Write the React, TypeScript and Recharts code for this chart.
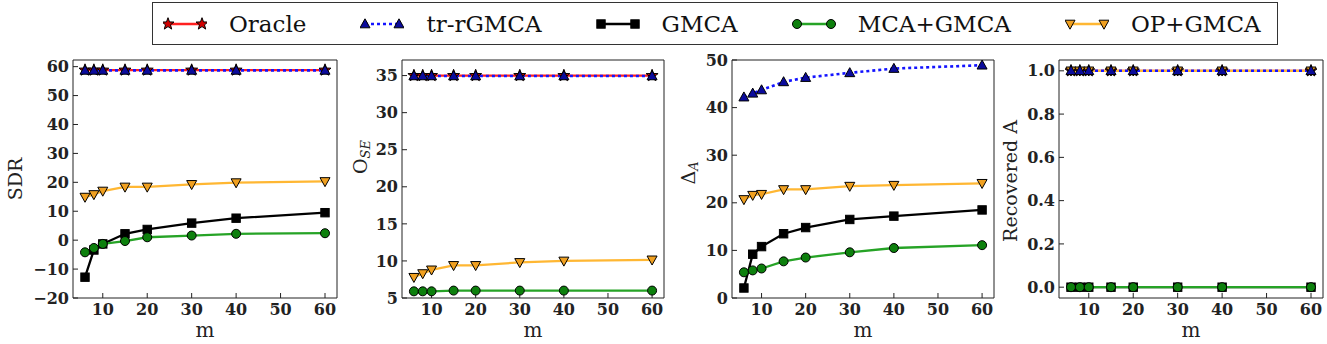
import React from 'react';
import { LineChart, Line, XAxis, YAxis } from 'recharts';

// number of measurements m (shared x values)
const mValues = [6, 8, 10, 15, 20, 30, 40, 60];
const mTicks = [10, 20, 30, 40, 50, 60];

// SDR
const sdrOracle = [58.8, 58.8, 58.8, 58.8, 58.8, 58.8, 58.8, 58.8];
const sdrTrRgmca = [58.7, 58.7, 58.7, 58.7, 58.7, 58.7, 58.7, 58.7];
const sdrGmca = [-12.8, -3.4, -1.3, 2.2, 3.7, 5.9, 7.6, 9.5];
const sdrMcaGmca = [-4.2, -2.7, -1.3, -0.3, 1.0, 1.6, 2.2, 2.4];
const sdrOpGmca = [14.9, 15.8, 17.0, 18.4, 18.4, 19.3, 19.9, 20.3];

// O_SE
const oseOracle = [35.0, 35.0, 35.0, 35.0, 35.0, 35.0, 35.0, 35.0];
const oseTrRgmca = [34.95, 34.95, 34.95, 34.95, 34.95, 34.95, 34.95, 34.95];
const oseMcaGmca = [5.9, 5.9, 5.9, 6.0, 6.0, 6.0, 6.0, 6.0];
const oseOpGmca = [7.8, 8.3, 8.8, 9.4, 9.4, 9.8, 10.0, 10.15];

// Delta_A
const daTrRgmca = [42.2, 43.0, 43.7, 45.4, 46.3, 47.3, 48.2, 48.9];
const daGmca = [2.1, 9.2, 10.8, 13.5, 14.8, 16.5, 17.2, 18.5];
const daMcaGmca = [5.4, 5.8, 6.2, 7.7, 8.5, 9.6, 10.5, 11.1];
const daOpGmca = [20.7, 21.6, 21.8, 22.8, 22.8, 23.5, 23.7, 24.1];

// Recovered A
const recOracle = [1, 1, 1, 1, 1, 1, 1, 1];
const recTrRgmca = [1, 1, 1, 1, 1, 1, 1, 1];
const recGmca = [0, 0, 0, 0, 0, 0, 0, 0];
const recMcaGmca = [0, 0, 0, 0, 0, 0, 0, 0];
const recOpGmca = [1, 1, 1, 1, 1, 1, 1, 1];

type Key = 'oracle' | 'tr' | 'gmca' | 'mca' | 'op';
type Shape = 'star' | 'up' | 'square' | 'circle' | 'down';

const STYLES: Record<Key, { name: string; stroke: string; width: number; dash?: string; shape: Shape; fill: string }> = {
  oracle: { name: 'Oracle', stroke: '#ff2020', width: 2.3, shape: 'star', fill: '#d00000' },
  tr: { name: 'tr-rGMCA', stroke: '#1414ff', width: 2.6, dash: '3 3', shape: 'up', fill: '#0b0b9c' },
  gmca: { name: 'GMCA', stroke: '#000000', width: 2.3, shape: 'square', fill: '#000000' },
  mca: { name: 'MCA+GMCA', stroke: '#26a326', width: 2.3, shape: 'circle', fill: '#0d800d' },
  op: { name: 'OP+GMCA', stroke: '#ffb733', width: 2.3, shape: 'down', fill: '#f0a020' },
};

const LEGEND_ORDER: Key[] = ['oracle', 'tr', 'gmca', 'mca', 'op'];
const DRAW_ORDER: Key[] = ['oracle', 'op', 'gmca', 'mca', 'tr'];

const FONT = '"DejaVu Serif", serif';
const AXIS = '#222';

function starPoints(cx: number, cy: number, ro: number, ri: number) {
  const pts: string[] = [];
  for (let i = 0; i < 10; i++) {
    const r = i % 2 === 0 ? ro : ri;
    const a = -Math.PI / 2 + (i * Math.PI) / 5;
    pts.push(`${cx + r * Math.cos(a)},${cy + r * Math.sin(a)}`);
  }
  return pts.join(' ');
}

function Marker({ shape, cx, cy, fill }: { shape: Shape; cx?: number; cy?: number; fill: string }) {
  if (cx == null || cy == null) return null;
  const common = { fill, stroke: '#000', strokeWidth: 1 };
  switch (shape) {
    case 'square':
      return <rect x={cx - 4.2} y={cy - 4.2} width={8.4} height={8.4} {...common} />;
    case 'circle':
      return <circle cx={cx} cy={cy} r={4.5} {...common} />;
    case 'up':
      return <polygon points={`${cx},${cy - 5.2} ${cx + 5},${cy + 3.8} ${cx - 5},${cy + 3.8}`} {...common} />;
    case 'down':
      return <polygon points={`${cx},${cy + 5.2} ${cx + 5},${cy - 3.8} ${cx - 5},${cy - 3.8}`} {...common} />;
    default:
      return <polygon points={starPoints(cx, cy, 6.3, 2.6)} {...common} />;
  }
}

function buildRows(series: Partial<Record<Key, number[]>>) {
  return mValues.map((m, i) => {
    const row: Record<string, number> = { m };
    (Object.keys(series) as Key[]).forEach((k) => {
      row[k] = series[k]![i];
    });
    return row;
  });
}

const minus = (v: number) => (v < 0 ? `\u2212${Math.abs(v)}` : String(v));

const panels = [
  {
    id: 'sdr',
    plotLeft: 73,
    plotWidth: 264,
    domain: [-20, 62.3],
    ticks: [-20, -10, 0, 10, 20, 30, 40, 50, 60],
    fmt: minus,
    titleGap: 58,
    titleDy: 0,
    title: <>SDR</>,
    series: { oracle: sdrOracle, tr: sdrTrRgmca, gmca: sdrGmca, mca: sdrMcaGmca, op: sdrOpGmca },
  },
  {
    id: 'ose',
    plotLeft: 402,
    plotWidth: 262,
    domain: [5, 37.1],
    ticks: [5, 10, 15, 20, 25, 30, 35],
    fmt: minus,
    titleGap: 42,
    titleDy: -22,
    title: (
      <>
        O
        <tspan dy={5} fontSize={13} fontStyle="italic">
          SE
        </tspan>
      </>
    ),
    series: { oracle: oseOracle, tr: oseTrRgmca, mca: oseMcaGmca, op: oseOpGmca },
  },
  {
    id: 'da',
    plotLeft: 732,
    plotWidth: 262,
    domain: [0, 50],
    ticks: [0, 10, 20, 30, 40, 50],
    fmt: minus,
    titleGap: 44,
    titleDy: -6,
    title: (
      <>
        Δ
        <tspan dy={5} fontSize={13} fontStyle="italic">
          A
        </tspan>
      </>
    ),
    series: { tr: daTrRgmca, gmca: daGmca, mca: daMcaGmca, op: daOpGmca },
  },
  {
    id: 'rec',
    plotLeft: 1059,
    plotWidth: 264,
    domain: [-0.05, 1.05],
    ticks: [0, 0.2, 0.4, 0.6, 0.8, 1.0],
    fmt: (v: number) => v.toFixed(1),
    titleGap: 49,
    titleDy: 2,
    title: <>Recovered A</>,
    series: { oracle: recOracle, tr: recTrRgmca, gmca: recGmca, mca: recMcaGmca, op: recOpGmca },
  },
];

const tickStyle = { fill: AXIS, fontSize: 16, fontFamily: FONT, fontWeight: 'bold' };
const X_DOMAIN = [3.3, 62.7];

function Panel({ p }: { p: (typeof panels)[number] }) {
  const data = buildRows(p.series);
  const keys = DRAW_ORDER.filter((k) => k in p.series);
  const width = 73 + p.plotWidth + 4;
  return (
    <div style={{ position: 'absolute', left: p.plotLeft - 73, top: 0 }}>
      <LineChart width={width} height={344} data={data} margin={{ top: 59, right: 3, bottom: 6, left: 23 }}>
        <XAxis
          dataKey="m"
          type="number"
          domain={X_DOMAIN}
          allowDataOverflow
          ticks={mTicks}
          interval={0}
          tickSize={-5}
          tickMargin={11}
          height={40}
          tick={tickStyle}
          stroke={AXIS}
          label={(lp: any) => {
            const vb = lp.viewBox;
            return (
              <text x={vb.x + vb.width / 2} y={vb.y + 39} textAnchor="middle" fontFamily={FONT} fontSize={20} fill={AXIS}>
                m
              </text>
            );
          }}
        />
        <XAxis
          xAxisId="top"
          orientation="top"
          dataKey="m"
          type="number"
          domain={X_DOMAIN}
          allowDataOverflow
          ticks={mTicks}
          interval={0}
          tickSize={-5}
          tick={false}
          height={1}
          stroke={AXIS}
        />
        <YAxis
          type="number"
          domain={p.domain}
          allowDataOverflow
          ticks={p.ticks}
          interval={0}
          tickSize={-5}
          tickMargin={9}
          width={50}
          tick={tickStyle}
          tickFormatter={p.fmt}
          stroke={AXIS}
          label={(lp: any) => {
            const vb = lp.viewBox;
            const cx = vb.x + vb.width - p.titleGap;
            const cy = vb.y + vb.height / 2 + p.titleDy;
            return (
              <text
                x={cx}
                y={cy}
                transform={`rotate(-90 ${cx} ${cy})`}
                textAnchor="middle"
                dominantBaseline="central"
                fontFamily={FONT}
                fontSize={19}
                fill={AXIS}
              >
                {p.title}
              </text>
            );
          }}
        />
        <YAxis
          yAxisId="right"
          orientation="right"
          type="number"
          domain={p.domain}
          allowDataOverflow
          ticks={p.ticks}
          interval={0}
          tickSize={-5}
          tick={false}
          width={1}
          stroke={AXIS}
        />
        {keys.map((k) => {
          const s = STYLES[k];
          return (
            <Line
              key={k}
              type="linear"
              dataKey={k}
              stroke={s.stroke}
              strokeWidth={s.width}
              strokeDasharray={s.dash}
              dot={(dp: any) => <Marker key={`${k}-${dp.index}`} shape={s.shape} cx={dp.cx} cy={dp.cy} fill={s.fill} />}
              activeDot={false}
              isAnimationActive={false}
            />
          );
        })}
      </LineChart>
    </div>
  );
}

function LegendHandle({ k }: { k: Key }) {
  const s = STYLES[k];
  return (
    <svg width={44} height={20} style={{ display: 'block' }}>
      <line x1={5} y1={10} x2={39} y2={10} stroke={s.stroke} strokeWidth={s.width} strokeDasharray={s.dash} />
      <Marker shape={s.shape} cx={5} cy={10} fill={s.fill} />
      <Marker shape={s.shape} cx={39} cy={10} fill={s.fill} />
    </svg>
  );
}

export default function App() {
  return (
    <div
      style={{
        position: 'fixed',
        left: 0,
        top: 0,
        width: 1327,
        height: 344,
        overflow: 'hidden',
        background: '#fff',
        fontFamily: FONT,
      }}
    >
      <div
        style={{
          position: 'absolute',
          left: 152,
          top: 2,
          width: 1114,
          height: 41,
          border: '1px solid #333',
          display: 'flex',
          alignItems: 'center',
          paddingLeft: 10,
          gap: 54,
          boxSizing: 'content-box',
        }}
      >
        {LEGEND_ORDER.map((k) => (
          <div key={k} style={{ display: 'flex', alignItems: 'center' }}>
            <LegendHandle k={k} />
            <span style={{ marginLeft: 22, fontSize: 23, color: '#111', whiteSpace: 'nowrap' }}>{STYLES[k].name}</span>
          </div>
        ))}
      </div>
      {panels.map((p) => (
        <Panel key={p.id} p={p} />
      ))}
    </div>
  );
}
